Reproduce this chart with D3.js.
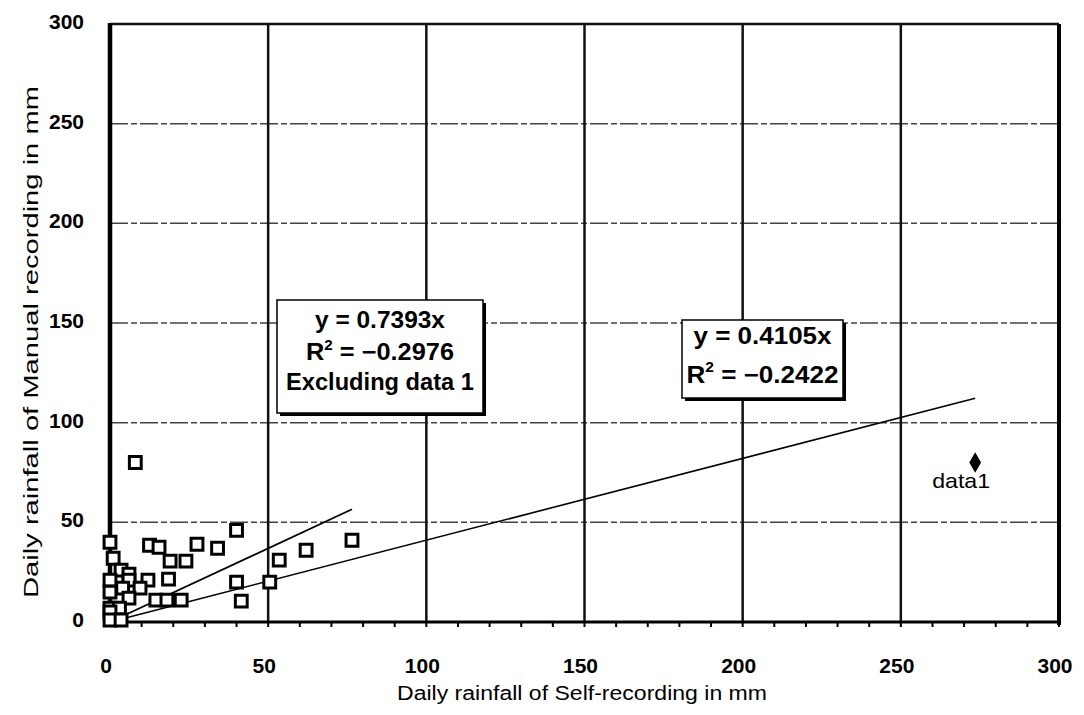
<!DOCTYPE html>
<html lang="en">
<head>
    <meta charset="UTF-8">
    <title>Daily rainfall: Self-recording vs Manual recording</title>
    <script src="https://d3js.org/d3.v7.min.js"></script>
    <style>
        body {
            margin: 0;
            background: #fff;
            font-family: "Liberation Sans", Arial, sans-serif;
        }
        svg { display: block; }
    </style>
</head>
<body>
    <div id="chart"></div>

    <script>
        // Self-recording (x) vs Manual recording (y), in mm, excluding data 1
        const selfRec = [0, 12.5, 15.5, 27.5, 34, 40, 8, 1, 19, 24, 3.5, 6,
                         0, 6, 12, 18.5, 40, 50.5, 0, 4, 9.5,
                         6, 14.5, 18, 22.5, 41.5, 0, 3, 0, 0, 3.5,
                         53.5, 62, 76.5];
        const manualRec = [40, 38.5, 37.5, 39, 37, 46, 80, 32, 30.5, 30.5, 26, 24,
                           21, 21, 21, 21.5, 20, 20, 15, 17, 17,
                           12, 11, 11, 11, 10.5, 7, 7, 5, 1, 1,
                           31, 36, 41];
        // the outlier
        const data1 = {x: 273.5, y: 80, label: "data1"};

        // trendlines through the origin
        const slopeExcl = 0.7393, r2Excl = "-0.2976";
        const slopeAll = 0.4105, r2All = "-0.2422";

        const ticks = [0, 50, 100, 150, 200, 250, 300];
        const minorTicks = d3.range(0, 301, 10);

        const width = 1084, height = 715;

        const x = d3.scaleLinear().domain([0, 300]).range([110, 1059]);
        const y = d3.scaleLinear().domain([0, 300]).range([622, 24]);

        const svg = d3.select("#chart").append("svg")
            .attr("width", width)
            .attr("height", height);

        // horizontal grid (dashed)
        svg.append("g").selectAll("line")
            .data(ticks.filter(d => d > 0 && d < 300))
            .enter().append("line")
            .attr("x1", x(0)).attr("x2", x(300))
            .attr("y1", d => y(d)).attr("y2", d => y(d))
            .attr("stroke", "#444")
            .attr("stroke-width", 1.5)
            .attr("stroke-dasharray", "18,3,6,3");

        // vertical grid (solid)
        svg.append("g").selectAll("line")
            .data(ticks.filter(d => d > 0 && d < 300))
            .enter().append("line")
            .attr("x1", d => x(d)).attr("x2", d => x(d))
            .attr("y1", y(0)).attr("y2", y(300))
            .attr("stroke", "#111")
            .attr("stroke-width", 2.5);

        // frame
        svg.append("line")
            .attr("x1", x(0)).attr("x2", x(300))
            .attr("y1", y(300)).attr("y2", y(300))
            .attr("stroke", "#111").attr("stroke-width", 2.5);
        svg.append("line")
            .attr("x1", x(300)).attr("x2", x(300))
            .attr("y1", y(300)).attr("y2", y(0) + 3)
            .attr("stroke", "#000").attr("stroke-width", 4);
        svg.append("line")
            .attr("x1", x(0)).attr("x2", x(300))
            .attr("y1", y(0)).attr("y2", y(0))
            .attr("stroke", "#000").attr("stroke-width", 3);
        svg.append("line")
            .attr("x1", x(0)).attr("x2", x(0))
            .attr("y1", y(300) - 1).attr("y2", y(0) + 2)
            .attr("stroke", "#000").attr("stroke-width", 4.5);

        // minor ticks below x axis
        svg.append("g").selectAll("line")
            .data(minorTicks)
            .enter().append("line")
            .attr("x1", d => x(d)).attr("x2", d => x(d))
            .attr("y1", y(0)).attr("y2", y(0) + 5)
            .attr("stroke", "#000").attr("stroke-width", 2);

        // tick labels
        svg.append("g").selectAll("text")
            .data(ticks)
            .enter().append("text")
            .attr("x", 84)
            .attr("y", d => y(d) + 5)
            .attr("text-anchor", "end")
            .attr("font-size", 21)
            .attr("font-weight", "bold")
            .attr("fill", "#000")
            .text(d => d);

        svg.append("g").selectAll("text")
            .data(ticks)
            .enter().append("text")
            .attr("x", d => x(d) - 4)
            .attr("y", 673)
            .attr("text-anchor", "middle")
            .attr("font-size", 21)
            .attr("font-weight", "bold")
            .attr("fill", "#000")
            .text(d => d);

        // axis titles
        svg.append("text")
            .attr("x", 582).attr("y", 700)
            .attr("text-anchor", "middle")
            .attr("font-size", 20)
            .attr("textLength", 370)
            .attr("lengthAdjust", "spacingAndGlyphs")
            .text("Daily rainfall of Self\u2010recording in mm");

        svg.append("text")
            .attr("transform", "translate(38,342) rotate(-90)")
            .attr("text-anchor", "middle")
            .attr("font-size", 21)
            .attr("textLength", 512)
            .attr("lengthAdjust", "spacingAndGlyphs")
            .text("Daily rainfall of Manual recording in mm");

        // trendlines
        const line = d3.line().x(d => x(d[0])).y(d => y(d[1]));
        const maxExcl = d3.max(selfRec);
        svg.append("path")
            .attr("d", line([[0, 0], [maxExcl, slopeExcl * maxExcl]]))
            .attr("fill", "none").attr("stroke", "#000").attr("stroke-width", 1.8);
        svg.append("path")
            .attr("d", line([[0, 0], [data1.x, slopeAll * data1.x]]))
            .attr("fill", "none").attr("stroke", "#000").attr("stroke-width", 1.6);

        // points
        const pts = selfRec.map((v, i) => [v, manualRec[i]]);
        svg.append("g").selectAll("path")
            .data(pts)
            .enter().append("path")
            .attr("transform", d => `translate(${x(d[0])},${y(d[1])})`)
            .attr("d", d3.symbol(d3.symbolSquare, 140))
            .attr("fill", "#fff")
            .attr("stroke", "#000")
            .attr("stroke-width", 3);

        svg.append("path")
            .attr("transform", `translate(${x(data1.x)},${y(data1.y)})`)
            .attr("d", d3.symbol(d3.symbolDiamond, 120))
            .attr("fill", "#000");
        svg.append("text")
            .attr("x", x(data1.x) - 14).attr("y", y(data1.y) + 25)
            .attr("text-anchor", "middle")
            .attr("font-size", 21)
            .attr("textLength", 58)
            .attr("lengthAdjust", "spacingAndGlyphs")
            .text(data1.label);

        // equation boxes
        const boxes = [
            {x0: 277, y0: 300, w: 206, h: 113, size: 23,
             lines: [`y = ${slopeExcl}x`, ["R", r2Excl], "Excluding data 1"],
             base: [328, 360, 390], len: [130, 148, 188]},
            {x0: 682, y0: 320, w: 161, h: 78, size: 24,
             lines: [`y = ${slopeAll}x`, ["R", r2All]],
             base: [344, 383], len: [138, 152]}
        ];
        boxes.forEach(b => {
            svg.append("rect")
                .attr("x", b.x0 + 3).attr("y", b.y0 + 3)
                .attr("width", b.w).attr("height", b.h)
                .attr("fill", "#000");
            svg.append("rect")
                .attr("x", b.x0).attr("y", b.y0)
                .attr("width", b.w).attr("height", b.h)
                .attr("fill", "#fff")
                .attr("stroke", "#000").attr("stroke-width", 1.5);
            const cx = b.x0 + b.w / 2;
            b.lines.forEach((t, i) => {
                const txt = svg.append("text")
                    .attr("x", cx).attr("y", b.base[i])
                    .attr("text-anchor", "middle")
                    .attr("font-size", b.size)
                    .attr("font-weight", "bold")
                    .attr("textLength", b.len[i])
                    .attr("lengthAdjust", "spacingAndGlyphs")
                    .attr("fill", "#000");
                if (Array.isArray(t)) {
                    txt.append("tspan").text(t[0]);
                    txt.append("tspan").attr("font-size", b.size * 0.6)
                        .attr("dy", -b.size * 0.45).text("2");
                    txt.append("tspan").attr("dy", b.size * 0.45)
                        .text(" = " + t[1].replace("-", "\u2212"));
                } else {
                    txt.text(t);
                }
            });
        });
    </script>
</body>
</html>
